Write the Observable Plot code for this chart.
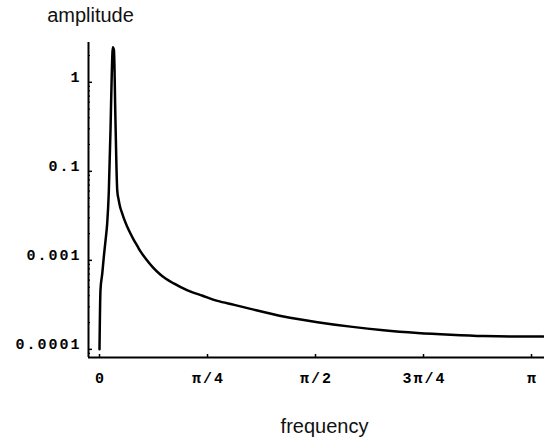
<!DOCTYPE html>
<html><head><meta charset="utf-8">
<script src="https://cdn.jsdelivr.net/npm/d3@7"></script>
<script src="https://cdn.jsdelivr.net/npm/@observablehq/plot@0.6"></script>
<style>
body{margin:0;background:#fff}
svg{display:block}
g[aria-label="y-axis tick label"], g[aria-label="x-axis tick label"]{letter-spacing:2px}
</style>
</head><body><div id="chart"></div>
<script>
// frequency (radians) and amplitude
const freq = [0.0, 0.007, 0.020, 0.031, 0.044, 0.056, 0.0676, 0.080, 0.089, 0.097,
  0.105, 0.116, 0.129, 0.140, 0.150, 0.165, 0.180, 0.201, 0.225, 0.249, 0.275, 0.298,
  0.335, 0.390, 0.444, 0.540, 0.640, 0.750, 0.858, 0.980, 1.098, 1.338, 1.585, 1.825,
  2.065, 2.313, 2.553, 2.793, 3.040, 3.229];
const amp = [0.0010, 0.0046, 0.0071, 0.0108, 0.0168, 0.0260, 0.0581, 0.289, 1.20, 2.47,
  2.29, 0.374, 0.0612, 0.0472, 0.0398, 0.0337, 0.0288, 0.0240, 0.0200, 0.0170, 0.0145, 0.0126,
  0.0105, 0.0083, 0.0069, 0.0055, 0.0046, 0.0040, 0.0035, 0.00316, 0.00285, 0.00234, 0.00202, 0.0018,
  0.00164, 0.00153, 0.00146, 0.00141, 0.00139, 0.00139];

const yTickValues = [1, 0.1, 0.01, 0.001];
const yTickLabels = ["1", "0.1", "0.001", "0.0001"];
const xTickValues = [0, Math.PI / 4, Math.PI / 2, 3 * Math.PI / 4, Math.PI];
const xTickLabels = ["0", "π/4", "π/2", "3π/4", "π"];
const xDomain = [-0.08, 3.236];
const yDomain = [0.00081, 2.8];
const yLabel = "amplitude";
const xLabel = "frequency";

const data = freq.map((f, i) => ({f, a: amp[i]}));
const yMinor = [];
for (let e = -4; e <= 0; e++) for (let m = 2; m <= 9; m++) {
  const v = m * Math.pow(10, e);
  if (v > yDomain[0] && v < yDomain[1]) yMinor.push(v);
}
const lookup = (vals, labels) => d => {
  const i = vals.findIndex(v => Math.abs(v - d) < 1e-9);
  return i < 0 ? "" : labels[i];
};
const tickFont = {fontFamily: "Liberation Mono", fontSize: 15, fontWeight: "bold"};

const chart = Plot.plot({
  width: 544, height: 442,
  marginLeft: 88, marginRight: 0, marginTop: 42, marginBottom: 85,
  x: {domain: xDomain},
  y: {type: "log", domain: yDomain},
  style: {background: "#fff", color: "#000"},
  marks: [
    Plot.axisY({ticks: yTickValues, tickSize: 0, tickPadding: 7, label: null,
      tickFormat: lookup(yTickValues, yTickLabels), dy: -5, ...tickFont}),
    Plot.axisY({ticks: yTickValues, tickSize: -4, tickFormat: () => "", label: null, strokeWidth: 1.5}),
    Plot.axisY({ticks: yMinor, tickSize: -2, tickFormat: () => "", label: null, strokeWidth: 1.2}),
    Plot.axisX({ticks: xTickValues, tickSize: 0, tickPadding: 15, label: null,
      tickFormat: lookup(xTickValues, xTickLabels), dx: 1, ...tickFont}),
    Plot.axisX({ticks: xTickValues, tickSize: -3, tickFormat: () => "", label: null, strokeWidth: 1.5}),
    Plot.ruleX([xDomain[0]], {strokeWidth: 2}),
    Plot.ruleY([yDomain[0]], {strokeWidth: 2}),
    Plot.line(data, {x: "f", y: "a", stroke: "#000", strokeWidth: 2.5, curve: "monotone-x"}),
    Plot.text([yLabel], {frameAnchor: "top-left", text: d => d, textAnchor: "middle", lineAnchor: "bottom",
      dx: 2, dy: -21, fontFamily: "Liberation Sans", fontSize: 20, fill: "#111"}),
    Plot.text([xLabel], {frameAnchor: "bottom", text: d => d, textAnchor: "middle", lineAnchor: "bottom",
      dx: 8, dy: 75, fontFamily: "Liberation Sans", fontSize: 20, fill: "#111"})
  ]
});
document.getElementById("chart").appendChild(chart);
</script>
</body></html>
